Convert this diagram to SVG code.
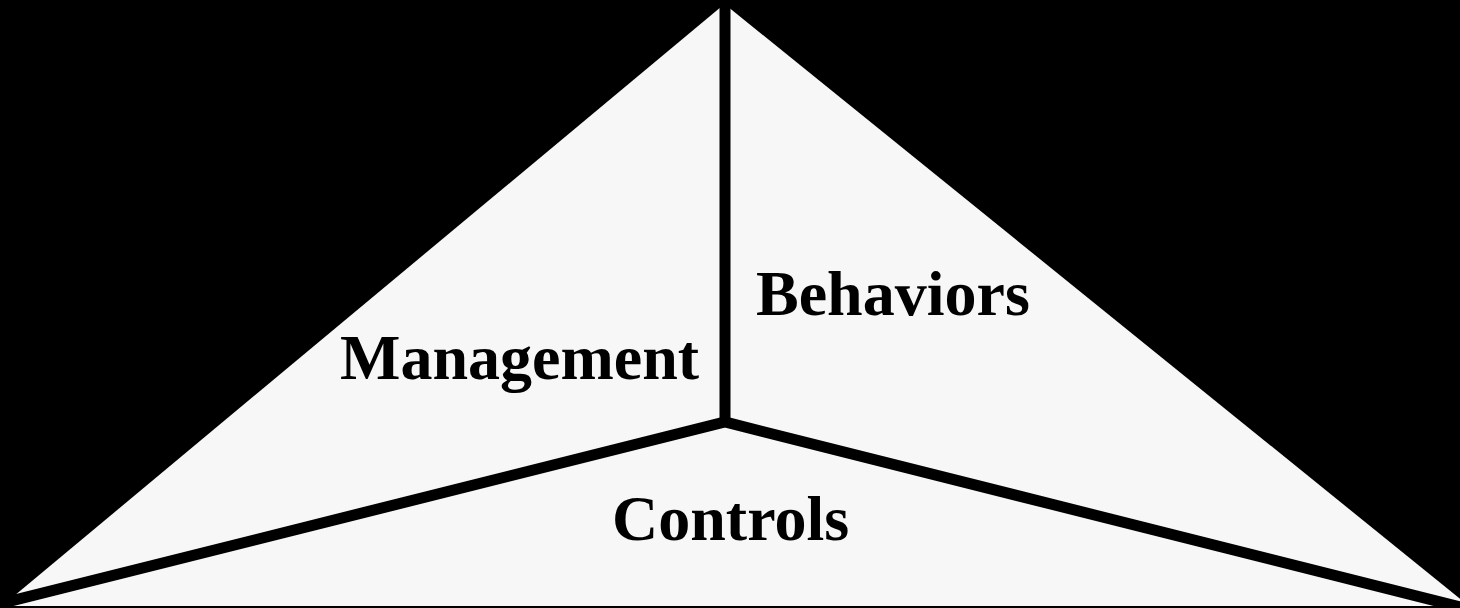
<svg xmlns="http://www.w3.org/2000/svg" width="1460" height="608" viewBox="0 0 1460 608">
  <style>
    .panel { fill: #f7f7f7; }
    .divider { fill: none; stroke: #000; stroke-width: 11; stroke-linejoin: miter; stroke-linecap: butt; }
    .label { font-family: "Liberation Serif", "Times New Roman", serif; font-weight: bold; font-size: 64px; fill: #000; }
  </style>
  <rect x="0" y="0" width="1460" height="608" fill="#000"/>
  <g id="triangle">
    <polygon class="panel" points="724.5,4 2,606 1469,606"/>
  </g>
  <g id="connectors">
    <path class="divider" d="M725,0 L725,422"/>
    <path class="divider" d="M-5,605 L725,422 L1470,609.5"/>
  </g>
  <g id="management">
    <text class="label" x="340" y="379">Management</text>
  </g>
  <g id="behaviors">
    <text class="label" x="756" y="315">Behaviors</text>
  </g>
  <g id="controls">
    <text class="label" x="612" y="540">Controls</text>
  </g>
</svg>
